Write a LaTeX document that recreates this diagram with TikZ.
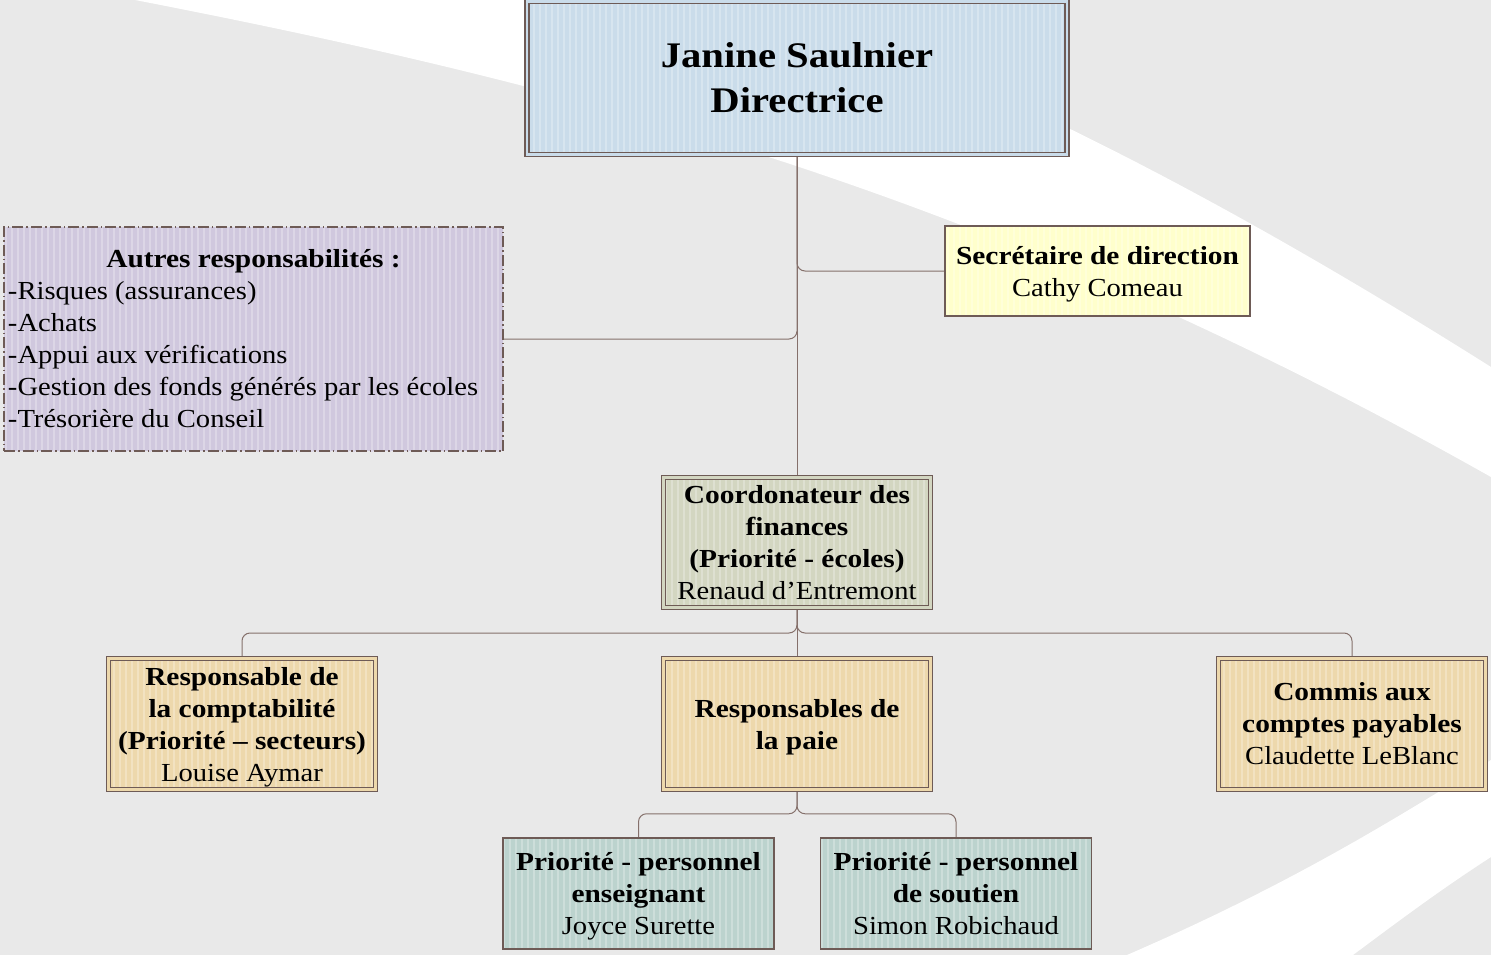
\documentclass[tikz,border=0pt]{standalone}
\usepackage{fontspec}
\setmainfont{Liberation Serif}[FakeStretch=1.10, BoldFeatures={FakeStretch=1.13}]
\usetikzlibrary{patterns.meta}
\usetikzlibrary{calc}

\definecolor{bggray}{HTML}{E9E9E9}
\definecolor{edge}{HTML}{6E5B56}
\definecolor{wire}{HTML}{85706B}
\definecolor{dirblue}{HTML}{CADCEA}
\definecolor{lilac}{HTML}{D0C8DE}
\definecolor{paleyellow}{HTML}{FFFFCC}
\definecolor{sage}{HTML}{D3D6C1}
\definecolor{tan}{HTML}{EDD8AC}
\definecolor{seafoam}{HTML}{BCD3CE}

\newcommand{\bodysize}{\fontsize{26}{32}\selectfont}

\pgfdeclarelayer{bg}
\pgfsetlayers{bg,main}

\tikzset{
  orgbox/.style={draw=edge, line width=1.4pt, preaction={fill=#1},
    pattern={Lines[angle=90,distance=6pt,line width=2pt]}, pattern color=#1!75!white,
    align=center, inner sep=0pt, font=\bodysize},
  dblbox/.style={orgbox=#1, line width=1.5pt, double=#1, double distance=2.5pt},
  link/.style={draw=wire, line width=1pt, rounded corners=8pt},
}

\begin{document}
\begin{tikzpicture}[x=1pt,y=-1pt]
\useasboundingbox (0,0) rectangle (1491,955);

\node[dblbox=dirblue, minimum width=540pt, minimum height=153pt, font=\fontsize{36}{45}\selectfont] (dir) at (797,78) {\textbf{Janine Saulnier}\\\textbf{Directrice}};
\node[orgbox=lilac, dash pattern=on 11pt off 3pt on 1.5pt off 3pt, minimum height=224pt, text width=491pt, inner xsep=4pt, align=flush left] (other) at (253.5,339) {\makebox[491pt]{\textbf{Autres responsabilités :}}\\-Risques (assurances)\\-Achats\\-Appui aux vérifications\\-Gestion des fonds générés par les écoles\\-Trésorière du Conseil};
\node[orgbox=paleyellow, minimum width=305pt, minimum height=90pt] (sec) at (1097.5,271) {\textbf{Secrétaire de direction}\\\smash{Cathy Comeau}};
\node[dblbox=sage, minimum width=267pt, minimum height=130pt] (coord) at (797,542.5) {\textbf{Coordonateur des}\\\textbf{finances}\\\textbf{(Priorité - écoles)}\\Renaud d’Entremont};
\node[dblbox=tan, minimum width=267pt, minimum height=131pt] (acc) at (242,724) {\textbf{Responsable de}\\\textbf{la comptabilité}\\\textbf{(Priorité – secteurs)}\\\smash{Louise Aymar}};
\node[dblbox=tan, minimum width=267pt, minimum height=131pt] (pay) at (797,724) {\textbf{Responsables de}\\\smash{\textbf{la paie}}};
\node[dblbox=tan, minimum width=267pt, minimum height=131pt] (clerk) at (1352,724) {\textbf{Commis aux}\\\textbf{comptes payables}\\Claudette LeBlanc};
\node[orgbox=seafoam, minimum width=271pt, minimum height=111pt] (teach) at (638.5,893.5) {\textbf{Priorité - personnel}\\\textbf{enseignant}\\\smash{Joyce Surette}};
\node[orgbox=seafoam, minimum width=271pt, minimum height=111pt] (staff) at (956,893.5) {\textbf{Priorité - personnel}\\\textbf{de soutien}\\Simon Robichaud};

\coordinate (fork1) at ($(coord.south)!0.5!(pay.north)$);
\coordinate (fork2) at ($(pay.south)!0.5!(pay.south |- teach.north)$);

\begin{pgfonlayer}{bg}
% backdrop with the two white swooshes
\fill[bggray] (0,0) rectangle (1491,955);
\fill[white] (135,0) .. controls (600,90) and (1000,200) .. (1491,477) -- (1491,367) .. controls (1250,215) and (1000,80) .. (760,0) -- cycle;
\fill[white] (1127,955) .. controls (1300,880) and (1400,815) .. (1491,760) -- (1491,857) .. controls (1440,890) and (1400,920) .. (1353,955) -- cycle;
% connectors
\draw[link] (dir.south) -- (coord.north);
\draw[link] (dir.south) |- (sec.west);
\draw[link] (dir.south) |- (other.east);
\draw[link] (coord.south) -- (pay.north);
\draw[link] (coord.south) -- (fork1) -| (acc.north);
\draw[link] (coord.south) -- (fork1) -| (clerk.north);
\draw[link] (pay.south) -- (fork2) -| (teach.north);
\draw[link] (pay.south) -- (fork2) -| (staff.north);
\end{pgfonlayer}
\end{tikzpicture}
\end{document}
